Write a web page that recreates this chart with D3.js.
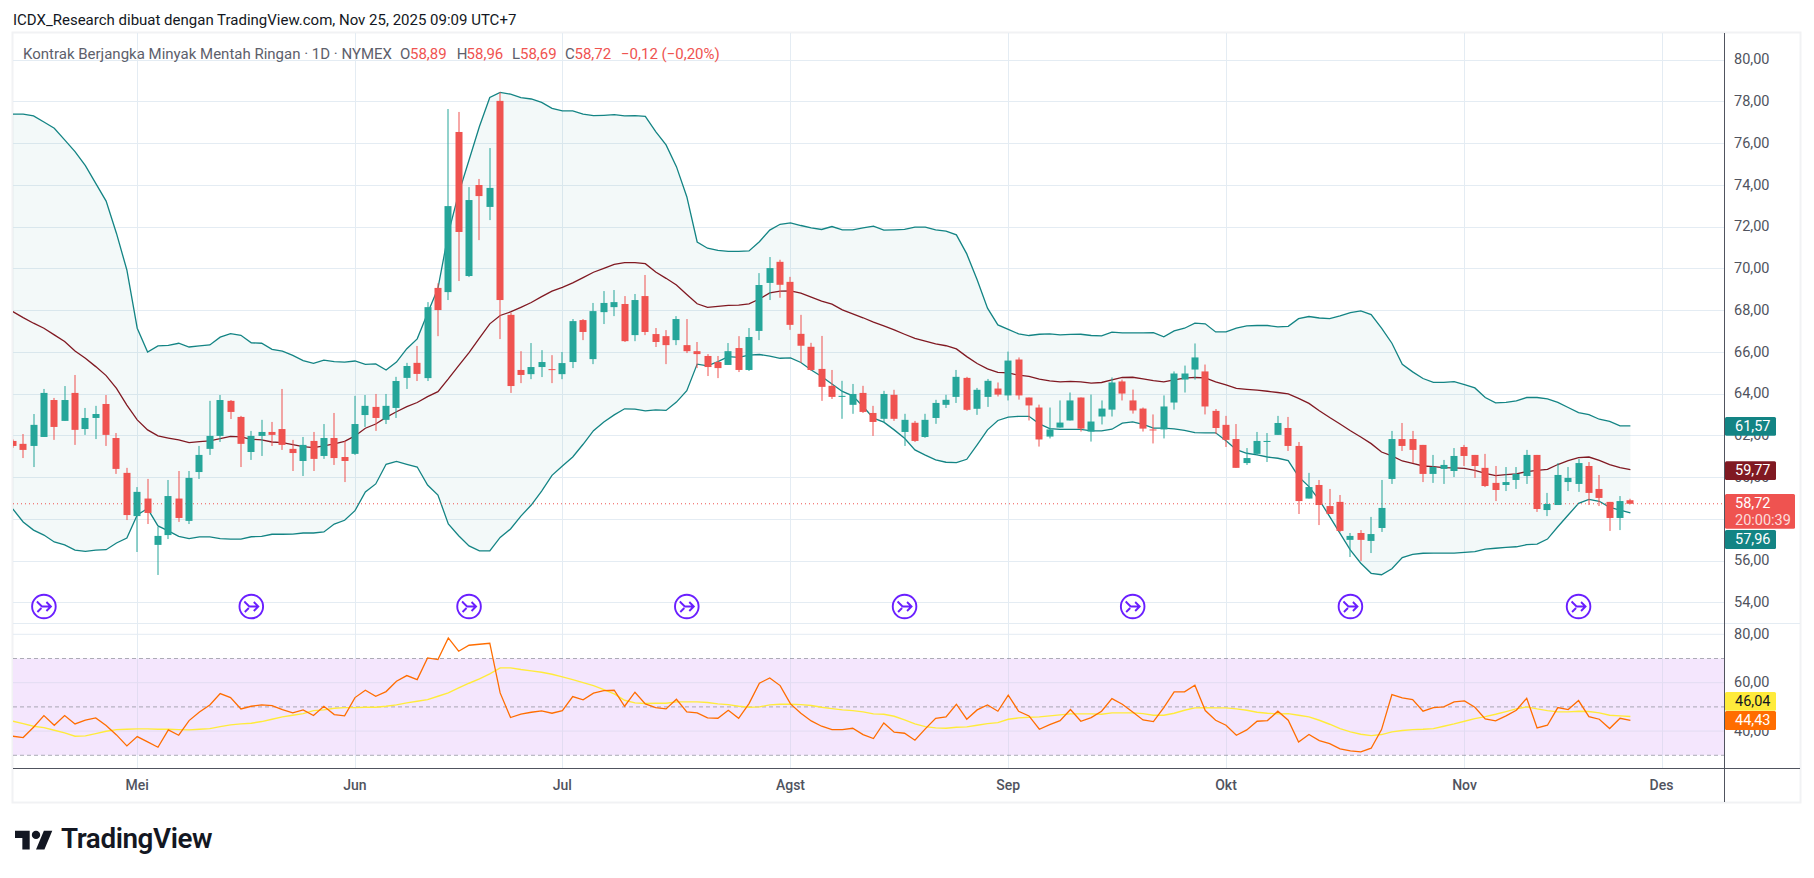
<!DOCTYPE html>
<meta charset="utf-8">
<style>
  body { margin: 0; background: #fff; }
  text { font-family: Roboto, sans-serif; }
</style>

<!-- Load d3.js -->
<script src="https://d3js.org/d3.v7.min.js"></script>

<div id="my_dataviz"></div>

<script>
// daily candles, first one is half cut by the left edge
var open = [61.73,61.59,61.49,61.92,63.69,62.69,64.03,62.30,62.83,63.50,61.87,60.20,58.13,58.97,56.75,57.22,58.97,57.90,60.24,61.35,
  61.97,63.65,62.88,61.20,61.97,62.16,62.30,61.35,60.77,61.73,61.01,61.87,60.96,61.11,62.97,63.36,62.74,63.31,64.75,65.47,
  64.74,69.06,68.86,76.53,69.63,73.99,72.94,78.02,67.77,65.13,64.93,65.27,65.17,64.93,65.51,67.52,65.65,67.90,68.14,68.29,
  66.80,68.67,66.85,66.75,66.56,66.32,66.03,65.80,65.51,65.37,66.18,65.13,67.00,69.30,70.31,69.35,66.86,66.24,65.18,64.37,
  63.84,63.46,64.03,63.07,62.79,63.94,62.16,62.60,61.92,62.83,63.46,63.84,64.75,63.27,63.84,64.24,63.91,65.63,63.81,63.33,
  61.94,62.37,62.71,63.81,62.18,62.90,63.23,64.58,63.67,63.28,62.28,62.28,63.57,64.67,65.15,65.06,63.17,62.50,61.82,60.67,
  61.11,61.68,62.02,62.35,61.49,58.97,59.62,58.61,58.81,56.99,57.32,56.94,57.56,59.91,61.82,61.82,61.54,60.15,60.39,60.29,
  61.44,61.06,60.44,59.72,59.62,59.86,60.05,61.06,58.42,58.66,59.76,59.67,60.53,59.43,58.81,58.04,58.89];
var high = [61.80,62.06,63.02,64.22,63.79,64.36,64.89,63.31,63.41,63.93,62.11,60.44,59.52,59.91,57.61,59.86,60.29,60.29,61.49,63.65,
  63.93,63.69,62.93,62.21,62.74,62.64,64.22,61.78,61.92,62.16,62.54,63.07,61.73,63.89,63.93,63.98,63.98,64.80,65.47,66.28,
  68.38,69.28,77.63,77.49,73.89,74.28,75.76,78.43,67.88,66.03,66.42,66.08,65.84,65.99,67.57,67.57,68.34,68.91,68.96,68.67,
  68.77,69.68,67.14,67.04,67.71,67.57,66.47,65.89,65.80,66.42,66.75,67.14,69.77,70.54,70.41,69.59,67.77,66.43,66.76,65.13,
  64.61,64.46,64.37,63.41,64.13,64.18,63.03,62.69,63.03,63.70,63.94,65.13,64.80,64.27,64.70,64.53,66.01,65.73,63.81,63.47,
  63.33,63.67,64.05,63.81,63.95,63.67,64.77,64.67,64.19,63.33,63.00,63.91,65.06,65.34,66.40,65.39,63.26,62.93,62.54,61.39,
  62.16,62.11,62.93,62.88,61.68,60.20,59.86,59.43,59.14,57.32,57.46,58.09,59.86,62.21,62.59,62.21,61.54,61.06,60.82,61.39,
  61.54,61.06,61.11,60.53,60.48,60.48,61.30,61.06,59.24,60.67,60.48,60.87,60.72,60.10,58.81,59.09,58.96];
var low = [61.40,60.91,60.48,61.92,61.78,62.69,61.54,62.02,61.82,61.49,60.15,57.94,56.41,57.75,55.31,57.03,57.85,57.75,59.91,61.06,
  61.68,62.78,60.48,60.82,61.01,61.49,61.30,60.29,60.05,60.29,60.87,60.58,59.76,61.06,62.40,62.21,62.54,62.83,64.22,64.60,
  64.60,66.75,68.48,69.39,69.58,71.35,72.31,66.61,64.03,64.50,64.69,64.79,64.50,64.69,65.22,66.56,65.41,67.33,67.71,66.47,
  66.51,66.80,66.23,65.41,66.32,65.94,65.22,64.84,64.74,65.37,65.03,65.08,66.56,68.48,68.59,67.05,65.47,65.09,63.65,63.74,
  62.79,63.03,63.07,61.97,62.60,62.69,61.49,61.68,61.88,62.55,63.31,63.55,63.17,62.98,63.36,63.86,63.67,63.71,62.71,61.46,
  61.85,62.37,62.71,62.18,61.70,62.52,62.90,63.67,63.04,62.18,61.61,61.85,63.23,64.05,64.67,63.00,62.06,61.44,60.44,60.58,
  61.06,60.72,62.02,61.25,58.23,58.97,57.70,58.23,57.37,56.17,55.98,56.36,57.37,59.67,61.25,60.67,59.76,59.72,59.67,60.00,
  60.53,59.96,59.52,58.85,59.33,59.43,59.67,58.33,58.13,58.66,59.33,59.29,58.66,58.61,57.42,57.46,58.69];
var close = [61.49,61.30,62.50,64.03,62.40,63.69,62.26,62.83,63.02,62.02,60.39,58.18,59.29,58.28,57.18,59.09,58.04,59.96,61.06,61.97,
  63.69,63.12,61.59,61.97,62.16,62.02,61.54,61.15,61.54,60.87,61.87,60.91,60.77,62.54,63.41,62.83,63.41,64.60,65.32,64.94,
  68.14,68.00,72.98,71.74,73.27,73.46,73.85,68.48,64.36,64.89,65.27,65.51,65.13,65.46,67.47,66.95,67.95,68.34,68.38,66.51,
  68.48,66.95,66.47,66.32,67.57,66.03,65.89,65.27,65.22,66.03,65.13,66.71,69.20,70.01,69.21,67.29,66.29,65.13,64.32,63.84,
  63.89,63.98,63.12,62.64,63.98,62.79,62.74,61.73,62.74,63.55,63.70,64.80,63.22,64.18,64.61,63.95,65.58,63.91,63.43,61.80,
  62.28,62.61,63.67,62.32,62.66,63.28,64.53,64.00,63.19,62.32,62.25,63.38,64.96,64.96,65.73,63.38,62.35,61.78,60.44,60.91,
  61.73,61.73,62.59,61.49,58.85,59.52,58.66,58.23,57.42,57.18,56.99,57.27,58.52,61.82,61.49,61.30,60.15,60.48,60.58,61.01,
  61.01,60.53,59.57,59.38,59.76,60.15,61.06,58.47,58.71,60.10,59.96,60.67,59.24,59.00,58.04,58.85,58.72];

// bollinger bands
var bbUpper = [77.39,77.39,77.30,77.01,76.71,76.15,75.59,74.92,74.07,73.22,71.67,69.92,67.13,65.99,66.28,66.31,66.41,66.23,66.28,66.33,
  66.70,66.87,66.79,66.43,66.41,66.12,66.03,65.83,65.58,65.45,65.60,65.53,65.51,65.56,65.40,65.42,65.13,65.51,66.15,66.62,
  67.85,69.04,71.67,73.59,75.19,76.79,78.18,78.43,78.34,78.18,78.11,77.95,77.66,77.54,77.54,77.39,77.31,77.33,77.36,77.30,
  77.31,77.28,76.55,75.91,74.87,73.43,71.26,70.96,70.86,70.81,70.81,70.83,71.27,71.83,72.11,72.18,72.05,71.94,71.86,72.00,
  71.84,71.84,71.94,72.02,71.83,71.84,71.86,71.97,71.97,71.84,71.78,71.60,70.69,69.45,68.09,67.29,67.07,66.86,66.78,66.84,
  66.86,66.81,66.83,66.84,66.78,66.76,66.94,66.91,66.91,66.91,66.92,66.72,67.00,67.13,67.37,67.34,66.95,66.95,67.13,67.24,
  67.26,67.26,67.19,67.22,67.59,67.69,67.62,67.59,67.72,67.88,67.96,67.78,67.13,66.41,65.40,65.04,64.72,64.54,64.54,64.57,
  64.43,64.27,63.81,63.55,63.58,63.65,63.81,63.81,63.74,63.58,63.33,63.09,62.99,62.77,62.67,62.45,62.45];
var bbBasis = [67.93,67.64,67.37,67.13,66.81,66.49,66.04,65.69,65.29,64.86,64.25,63.45,62.74,62.26,61.97,61.87,61.78,61.65,61.70,61.73,
  61.84,61.95,61.92,61.81,61.78,61.68,61.65,61.55,61.46,61.41,61.49,61.59,61.71,61.97,62.34,62.54,62.86,63.13,63.37,63.57,
  63.85,64.09,64.70,65.34,65.96,66.65,67.34,67.74,67.91,68.13,68.36,68.64,68.91,69.09,69.30,69.55,69.81,70.00,70.19,70.27,
  70.27,70.22,69.82,69.52,69.20,68.75,68.30,68.13,68.18,68.22,68.24,68.30,68.53,68.82,68.91,68.92,68.81,68.62,68.43,68.28,
  68.01,67.82,67.63,67.42,67.24,67.05,66.84,66.64,66.51,66.38,66.29,66.14,65.77,65.44,65.18,65.01,64.99,64.88,64.82,64.69,
  64.61,64.56,64.58,64.56,64.50,64.53,64.66,64.77,64.78,64.70,64.62,64.56,64.66,64.74,64.77,64.75,64.56,64.41,64.25,64.20,
  64.16,64.11,64.05,63.98,63.77,63.53,63.18,62.85,62.54,62.22,61.92,61.60,61.20,61.01,60.77,60.66,60.53,60.50,60.45,60.44,
  60.42,60.32,60.18,60.07,60.12,60.15,60.26,60.32,60.37,60.60,60.79,60.93,60.96,60.80,60.60,60.45,60.36];
var bbLower = [58.47,57.85,57.46,57.22,56.89,56.75,56.50,56.44,56.50,56.52,56.84,57.08,58.18,58.49,57.66,57.42,57.16,57.05,57.13,57.13,
  57.05,57.03,57.03,57.14,57.16,57.26,57.26,57.27,57.32,57.32,57.37,57.75,57.93,58.39,59.29,59.67,60.61,60.75,60.61,60.48,
  59.62,59.14,57.75,57.19,56.70,56.46,56.46,57.11,57.51,58.13,58.66,59.33,60.08,60.53,60.96,61.57,62.22,62.64,62.98,63.27,
  63.25,63.17,63.22,63.19,63.59,64.14,65.41,65.33,65.53,65.77,65.73,65.84,65.87,65.79,65.69,65.71,65.49,65.13,64.82,64.46,
  64.10,63.89,63.38,62.82,62.63,62.26,61.86,61.30,61.05,60.82,60.71,60.69,60.85,61.54,62.26,62.71,62.87,62.91,62.91,62.55,
  62.32,62.28,62.28,62.28,62.21,62.21,62.29,62.58,62.64,62.52,62.34,62.34,62.31,62.24,62.13,62.12,62.12,61.74,61.31,61.14,
  61.06,60.96,60.90,60.79,60.02,59.54,58.90,58.10,57.30,56.50,55.87,55.39,55.32,55.61,56.14,56.30,56.35,56.36,56.36,56.36,
  56.39,56.43,56.55,56.59,56.63,56.66,56.76,56.79,57.03,57.62,58.18,58.74,58.93,58.84,58.55,58.42,58.28];

// rsi and its moving average
var rsi = [37.88,37.33,41.60,46.42,42.42,46.42,42.97,44.49,45.45,42.28,38.43,33.88,37.74,35.53,33.33,40.49,38.29,44.35,47.93,50.82,
  55.51,53.85,49.17,50.27,50.82,50.55,48.90,47.52,48.76,46.42,50.27,46.83,46.28,53.85,56.88,54.41,56.33,60.60,62.95,61.29,
  70.25,69.56,78.51,73.00,75.48,75.89,76.31,55.78,45.59,46.97,47.79,48.35,47.38,48.48,54.27,52.89,55.65,56.75,56.88,50.27,
  56.06,51.24,49.72,49.17,53.17,47.93,47.52,45.45,45.31,48.62,45.31,51.38,59.78,61.98,58.81,51.24,47.38,44.21,42.01,40.63,
  40.63,41.18,38.57,36.91,43.39,39.53,39.12,36.22,40.91,45.31,45.86,51.10,44.90,48.76,50.82,48.21,54.82,48.21,46.28,40.77,
  42.70,44.35,48.90,44.07,45.59,48.21,53.44,51.10,47.93,44.63,43.94,49.72,56.20,56.20,58.95,48.48,44.49,42.42,38.29,40.49,
  44.07,44.35,48.21,44.49,35.53,38.57,36.09,34.85,32.64,31.82,31.40,32.92,40.63,55.09,53.72,53.03,48.21,49.72,50.00,52.06,
  52.48,49.86,45.04,44.21,46.28,48.62,53.58,41.32,42.42,49.72,48.90,52.61,46.00,44.90,41.04,45.31,44.43];
var rsiMa = [44.07,43.11,42.01,41.46,40.36,39.25,37.88,38.01,38.98,39.94,40.63,40.77,40.91,40.91,40.77,40.77,40.63,40.49,40.77,41.04,
  41.87,42.56,42.97,43.25,43.94,44.90,45.86,46.55,47.24,48.48,48.76,49.45,49.72,49.72,49.86,49.86,50.27,50.82,51.65,52.34,
  53.03,54.41,55.78,57.85,59.78,61.57,63.63,66.11,66.11,65.43,64.87,64.32,63.50,62.39,61.29,60.05,58.81,57.16,55.37,52.75,
  51.65,51.38,51.51,51.51,52.06,52.06,52.06,51.79,51.24,50.96,50.27,49.86,50.00,50.82,51.10,51.10,50.96,50.55,49.86,49.31,
  48.76,48.48,47.93,47.10,46.97,46.14,44.63,42.97,41.87,41.32,41.18,41.60,41.73,42.42,43.11,43.52,44.90,45.45,45.73,45.86,
  46.28,46.69,47.10,47.10,47.10,46.97,47.52,47.52,47.52,47.24,46.55,46.55,47.38,48.62,49.59,49.72,49.59,49.59,49.17,48.62,
  47.79,47.38,47.10,47.24,46.55,45.86,44.49,42.84,41.04,39.67,38.70,38.15,38.57,39.67,40.22,40.63,40.77,41.04,42.01,42.97,
  44.07,45.18,46.00,46.97,48.07,49.17,50.00,49.17,48.48,47.93,47.93,48.21,48.07,47.52,46.55,46.28,46.04];

var priceTicks = [80, 78, 76, 74, 72, 70, 68, 66, 64, 62, 60, 58, 56, 54];
var rsiGrid = [80, 60, 40];
var rsiLevels = [70, 50, 30];
var months = ["Mei", "Jun", "Jul", "Agst", "Sep", "Okt", "Nov", "Des"];
var monthBars = [12, 33, 53, 75, 96, 117, 140, 159];
var eventBars = [3, 23, 44, 65, 86, 108, 129, 151];

var indices = d3.range(close.length);
var comma = d3.formatLocale({decimal: ",", thousands: ".", grouping: [3], currency: ["", ""]}).format(".2f");

var W = 1814, H = 878;
var left = 13, axisX = 1724, right = 1800, top_ = 33, sep = 623, axisY = 768, bottom = 802;

var svg = d3.select("#my_dataviz").append("svg")
  .attr("width", W).attr("height", H).style("display", "block");

var x = d3.scaleLinear().domain([0, 156]).range([12.8, 1630.4]);
var y = d3.scaleLinear().domain([78, 54]).range([101.3, 602.3]);
var yR = d3.scaleLinear().domain([80, 30]).range([634.3, 755.3]);

var defs = svg.append("defs");
defs.append("clipPath").attr("id", "mainClip").append("rect")
  .attr("x", left).attr("y", top_).attr("width", axisX - left).attr("height", sep - top_);
defs.append("clipPath").attr("id", "rsiClip").append("rect")
  .attr("x", left).attr("y", sep).attr("width", axisX - left).attr("height", axisY - sep);

var gridCol = "#e4ecf3", axisCol = "#50535e", textCol = "#50535e";
var green = "#26a69a", red = "#ef5350", teal = "#138484", maroon = "#801922";

// header
svg.append("text").attr("x", 13).attr("y", 25).attr("font-size", 15).attr("fill", "#131722")
  .text("ICDX_Research dibuat dengan TradingView.com, Nov 25, 2025 09:09 UTC+7");

// frame
svg.append("rect").attr("x", left - 0.5).attr("y", top_ - 0.5)
  .attr("width", right - left + 1).attr("height", bottom - top_ + 1)
  .attr("fill", "#fff").attr("stroke", "#f1f2f4").attr("stroke-width", 2);

// grid
var grid = svg.append("g").attr("fill", "none").attr("stroke", gridCol);
grid.selectAll(".v").data(monthBars).enter().append("line")
  .attr("x1", d => Math.round(x(d)) + 0.5).attr("x2", d => Math.round(x(d)) + 0.5)
  .attr("y1", top_).attr("y2", axisY);
grid.selectAll(".h").data(priceTicks).enter().append("line")
  .attr("x1", left).attr("x2", axisX)
  .attr("y1", d => Math.round(y(d)) + 0.5).attr("y2", d => Math.round(y(d)) + 0.5);
grid.append("line").attr("x1", left).attr("x2", right).attr("y1", sep + 0.5).attr("y2", sep + 0.5);

// bollinger
var main = svg.append("g").attr("clip-path", "url(#mainClip)");
main.append("path").datum(indices)
  .attr("fill", teal).attr("fill-opacity", 0.05)
  .attr("d", d3.area().x(i => x(i)).y0(i => y(bbLower[i])).y1(i => y(bbUpper[i])));
[[bbUpper, teal], [bbLower, teal], [bbBasis, maroon]].forEach(function(s) {
  main.append("path").datum(indices)
    .attr("fill", "none").attr("stroke", s[1]).attr("stroke-width", 1.3)
    .attr("d", d3.line().x(i => x(i)).y(i => y(s[0][i])));
});

// current price line
main.append("line").attr("x1", left).attr("x2", axisX)
  .attr("y1", y(close[156])).attr("y2", y(close[156]))
  .attr("stroke", red).attr("stroke-dasharray", "1 3");

// candles
var candles = main.selectAll(".c").data(indices).enter().append("g")
  .attr("fill", i => close[i] >= open[i] ? green : red);
candles.append("rect")
  .attr("x", i => Math.round(x(i)) - 0.5).attr("width", 1)
  .attr("y", i => y(high[i])).attr("height", i => y(low[i]) - y(high[i]));
candles.append("rect")
  .attr("x", i => Math.round(x(i)) - 3.5).attr("width", 7)
  .attr("y", i => y(Math.max(open[i], close[i])))
  .attr("height", i => Math.max(1, y(Math.min(open[i], close[i])) - y(Math.max(open[i], close[i]))));

// event markers
var ev = svg.append("g").selectAll("g").data(eventBars).enter().append("g")
  .attr("transform", d => "translate(" + x(d) + ",606.5)")
  .attr("fill", "none").attr("stroke", "#6a1fff").attr("stroke-width", 1.9);
ev.append("circle").attr("r", 11.8).attr("fill", "#fff");
ev.append("path").attr("d", "M-7,-5 L-2,0 L7,0 M2.5,-4.5 L7,0 L2.5,4.5 M-6.5,5.5 L-2.5,1.5");

// rsi pane
var pane = svg.append("g").attr("clip-path", "url(#rsiClip)");
pane.append("rect").attr("x", left).attr("width", axisX - left)
  .attr("y", yR(70)).attr("height", yR(30) - yR(70))
  .attr("fill", "#f4e6fd");
pane.selectAll(".g").data(rsiGrid).enter().append("line")
  .attr("x1", left).attr("x2", axisX).attr("y1", d => yR(d)).attr("y2", d => yR(d))
  .attr("stroke", d => d == 80 ? gridCol : "#e2dcf2");
// vertical grid shows through the purple band
pane.selectAll(".mv").data(monthBars).enter().append("line")
  .attr("x1", d => Math.round(x(d)) + 0.5).attr("x2", d => Math.round(x(d)) + 0.5)
  .attr("y1", yR(70)).attr("y2", yR(30)).attr("stroke", "#e2dcf2");
pane.selectAll(".l").data(rsiLevels).enter().append("line")
  .attr("x1", left).attr("x2", axisX).attr("y1", d => yR(d)).attr("y2", d => yR(d))
  .attr("stroke", "#787b86").attr("stroke-opacity", 0.6).attr("stroke-dasharray", "4 3");
pane.append("path").datum(indices).attr("fill", "none").attr("stroke", "#ffeb3b").attr("stroke-width", 1.4)
  .attr("d", d3.line().x(i => x(i)).y(i => yR(rsiMa[i])));
pane.append("path").datum(indices).attr("fill", "none").attr("stroke", "#ff6d00").attr("stroke-width", 1.3)
  .attr("d", d3.line().x(i => x(i)).y(i => yR(rsi[i])));

// axes lines
svg.append("line").attr("x1", axisX + 0.5).attr("x2", axisX + 0.5).attr("y1", top_).attr("y2", bottom)
  .attr("stroke", axisCol);
svg.append("line").attr("x1", left).attr("x2", right).attr("y1", axisY + 0.5).attr("y2", axisY + 0.5)
  .attr("stroke", axisCol);

// price axis labels
svg.append("g").selectAll("text").data(priceTicks).enter().append("text")
  .attr("x", 1734).attr("y", d => y(d)).attr("dy", "0.33em")
  .attr("font-size", 14.5).attr("fill", textCol).text(d => comma(d));
svg.append("g").selectAll("text").data(rsiGrid).enter().append("text")
  .attr("x", 1734).attr("y", d => yR(d)).attr("dy", "0.33em")
  .attr("font-size", 14.5).attr("fill", textCol).text(d => comma(d));

// month labels
svg.append("g").selectAll("text").data(months).enter().append("text")
  .attr("x", (d, i) => x(monthBars[i])).attr("y", 790).attr("text-anchor", "middle")
  .attr("font-size", 14).attr("font-weight", 500).attr("fill", textCol).text(d => d);

// value tags on the right axis
function tag(y0, h, w, bg, fg, lines) {
  svg.append("rect").attr("x", axisX + 1).attr("y", y0).attr("width", w).attr("height", h)
    .attr("rx", 1.5).attr("fill", bg);
  lines.forEach(function(t, k) {
    svg.append("text").attr("x", 1735).attr("y", y0 + 14 + k * 16.5)
      .attr("font-size", 14.5).attr("fill", fg).attr("fill-opacity", k ? 0.8 : 1).text(t);
  });
}
tag(417, 18.7, 51, teal, "#fff", ["61,57"]);
tag(461.3, 18.7, 51, maroon, "#fff", ["59,77"]);
tag(494, 34.7, 70, red, "#fff", ["58,72", "20:00:39"]);
tag(530, 19, 51, teal, "#fff", ["57,96"]);
tag(692, 18.7, 51, "#ffeb3b", "#131722", ["46,04"]);
tag(711, 19, 51, "#ff6d00", "#fff", ["44,43"]);

// legend
var lg = svg.append("g").attr("font-size", 15);
lg.append("text").attr("x", 23).attr("y", 59).attr("fill", "#5d606b")
  .text("Kontrak Berjangka Minyak Mentah Ringan \u00b7 1D \u00b7 NYMEX");
[["O", 400, 410, "58,89"], ["H", 456.7, 466.6, "58,96"], ["L", 512, 520, "58,69"], ["C", 565, 574.5, "58,72"]].forEach(function(d) {
  lg.append("text").attr("x", d[1]).attr("y", 59).attr("fill", "#5d606b").text(d[0]);
  lg.append("text").attr("x", d[2]).attr("y", 59).attr("fill", red).text(d[3]);
});
lg.append("text").attr("x", 621).attr("y", 59).attr("fill", red).text("\u22120,12 (\u22120,20%)");

// logo
var logo = svg.append("g").attr("fill", "#131722");
var lg2 = logo.append("g").attr("transform", "translate(15,826.5) scale(1.05)");
lg2.append("path").attr("d", "M14 22H7V11H0V4h14v18zM28 22h-8l7.5-18h8L28 22z");
lg2.append("circle").attr("cx", 20).attr("cy", 8).attr("r", 4);
logo.append("text").attr("x", 61).attr("y", 848).attr("font-size", 27.8).attr("font-weight", 600)
  .attr("font-family", "Inter, sans-serif").attr("letter-spacing", -0.4).text("TradingView");
</script>
